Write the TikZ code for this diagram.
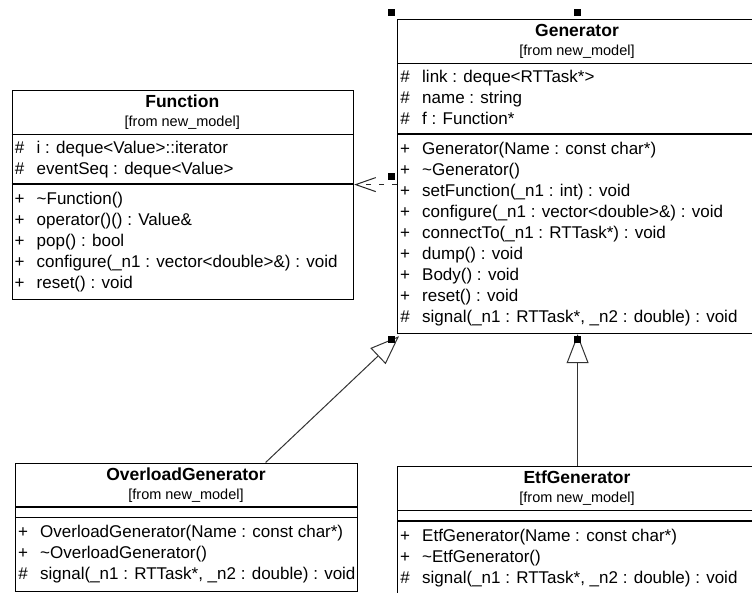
\documentclass[tikz,border=0pt]{standalone}
\usepackage{fontspec}
\setmainfont{Liberation Sans}
\usetikzlibrary{arrows.meta}
\begin{document}
\begin{tikzpicture}[x=1pt, y=-1pt,
  box/.style={draw=black, line width=1.2pt, fill=white, inner sep=0pt, anchor=north west},
  sepline/.style={draw=black, line width=1.2pt},
  rowtext/.style={anchor=base west, inner sep=0pt, font=\fontsize{17}{20}\selectfont},
  marker/.style={anchor=base, inner sep=0pt, font=\fontsize{17}{20}\selectfont},
  classname/.style={anchor=base, inner sep=0pt, font=\fontsize{17.5}{20}\selectfont\bfseries},
  origin/.style={anchor=base, inner sep=0pt, font=\fontsize{14.5}{17}\selectfont},
  handle/.style={fill=black, inner sep=0pt, minimum size=7pt},
  dep/.style={draw=black!85, line width=1pt, dash pattern=on 5pt off 8pt,
    -{Straight Barb[length=20pt,width=14pt,line width=1pt]}},
  inh/.style={draw=black!80, line width=1pt,
    -{Triangle[length=29pt,width=22pt,fill=white,line width=1pt]}},
]
\clip (0,0) rectangle (752,592);
\fill[white] (0,0) rectangle (752,592);

% ---------------- Generator ----------------
\node[box, minimum width=360pt, minimum height=314pt] (gen) at (397,19) {};
\node[classname] (gen-name) at (577,36.7) {Generator};
\node[origin] (gen-from) at (577,55.7) {[from new\_model]};
\draw[sepline] (gen.west |- 0,63.5) -- (gen.east |- 0,63.5);
\draw[sepline] (gen.west |- 0,134) -- (gen.east |- 0,134);
\foreach \m/\t [count=\i] in {
  {\#}/{link : deque<RTTask*>},
  {\#}/{name : string},
  {\#}/{f : Function*}}
{
  \node[marker] (gen-am\i) at (405,{82.5+21*(\i-1)}) {\m};
  \node[rowtext] (gen-a\i) at (422,{82.5+21*(\i-1)}) {\t};
}
\foreach \m/\t [count=\i] in {
  {+}/{Generator(Name : const char*)},
  {+}/{\textasciitilde Generator()},
  {+}/{setFunction(\_n1 : int) : void},
  {+}/{configure(\_n1 : vector<double>\&) : void},
  {+}/{connectTo(\_n1 : RTTask*) : void},
  {+}/{dump() : void},
  {+}/{Body() : void},
  {+}/{reset() : void},
  {\#}/{signal(\_n1 : RTTask*, \_n2 : double) : void}}
{
  \node[marker] (gen-mm\i) at (405,{154+21*(\i-1)}) {\m};
  \node[rowtext] (gen-m\i) at (422,{154+21*(\i-1)}) {\t};
}

% ---------------- Function ----------------
\node[box, minimum width=341.5pt, minimum height=209pt] (fun) at (11.5,90) {};
\node[classname] (fun-name) at (182.25,107.7) {Function};
\node[origin] (fun-from) at (182.25,126.7) {[from new\_model]};
\draw[sepline] (fun.west |- 0,134.5) -- (fun.east |- 0,134.5);
\draw[sepline] (fun.west |- 0,184) -- (fun.east |- 0,184);
\foreach \m/\t [count=\i] in {
  {\#}/{i : deque<Value>::iterator},
  {\#}/{eventSeq : deque<Value>}}
{
  \node[marker] (fun-am\i) at (19.5,{153.5+21*(\i-1)}) {\m};
  \node[rowtext] (fun-a\i) at (36.5,{153.5+21*(\i-1)}) {\t};
}
\foreach \m/\t [count=\i] in {
  {+}/{\textasciitilde Function()},
  {+}/{operator()() : Value\&},
  {+}/{pop() : bool},
  {+}/{configure(\_n1 : vector<double>\&) : void},
  {+}/{reset() : void}}
{
  \node[marker] (fun-mm\i) at (19.5,{204+21*(\i-1)}) {\m};
  \node[rowtext] (fun-m\i) at (36.5,{204+21*(\i-1)}) {\t};
}

% ---------------- OverloadGenerator ----------------
\node[box, minimum width=342pt, minimum height=128pt] (ovl) at (15,462.5) {};
\node[classname] (ovl-name) at (186,480.2) {OverloadGenerator};
\node[origin] (ovl-from) at (186,499.2) {[from new\_model]};
\draw[sepline] (ovl.west |- 0,507) -- (ovl.east |- 0,507);
\draw[sepline] (ovl.west |- 0,517.5) -- (ovl.east |- 0,517.5);
\foreach \m/\t [count=\i] in {
  {+}/{OverloadGenerator(Name : const char*)},
  {+}/{\textasciitilde OverloadGenerator()},
  {\#}/{signal(\_n1 : RTTask*, \_n2 : double) : void}}
{
  \node[marker] (ovl-mm\i) at (23,{537.5+21*(\i-1)}) {\m};
  \node[rowtext] (ovl-m\i) at (40,{537.5+21*(\i-1)}) {\t};
}

% ---------------- EtfGenerator ----------------
\node[box, minimum width=360pt, minimum height=128pt] (etf) at (397,466) {};
\node[classname] (etf-name) at (577,483.7) {EtfGenerator};
\node[origin] (etf-from) at (577,502.7) {[from new\_model]};
\draw[sepline] (etf.west |- 0,510.5) -- (etf.east |- 0,510.5);
\draw[sepline] (etf.west |- 0,521) -- (etf.east |- 0,521);
\foreach \m/\t [count=\i] in {
  {+}/{EtfGenerator(Name : const char*)},
  {+}/{\textasciitilde EtfGenerator()},
  {\#}/{signal(\_n1 : RTTask*, \_n2 : double) : void}}
{
  \node[marker] (etf-mm\i) at (405,{541+21*(\i-1)}) {\m};
  \node[rowtext] (etf-m\i) at (422,{541+21*(\i-1)}) {\t};
}

% ---------------- relations ----------------
\draw[dep] ([yshift=-8pt]gen.west) -- ([yshift=-8pt]gen.west -| fun.east);
\draw[inh] (etf.north) -- (gen.south);
\draw[inh] ([xshift=79pt]ovl.north) -- ([xshift=2pt,yshift=-2pt]gen.south west);

% ---------------- selection handles ----------------
\node[handle] (h-tl) at (391,12.5) {};
\node[handle] (h-tm) at (577,12.5) {};
\node[handle] (h-ml) at (391,176) {};
\node[handle] (h-bl) at (391,339.5) {};
\node[handle] (h-bm) at (577,339.5) {};
\end{tikzpicture}
\end{document}
